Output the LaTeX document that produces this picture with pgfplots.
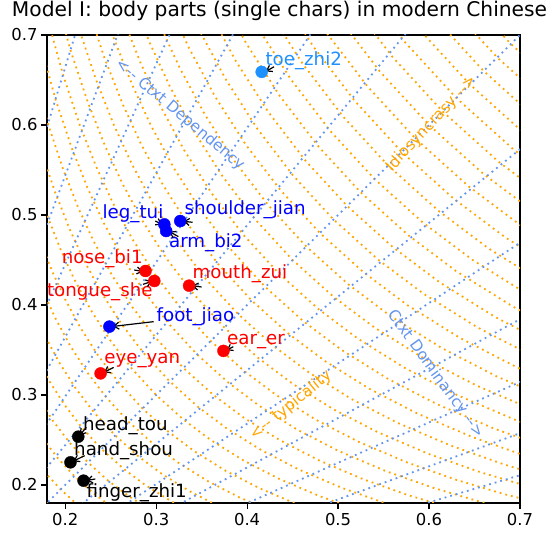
\documentclass[border=0pt]{standalone}
\usepackage{fontspec}
\setmainfont{DejaVu Sans}
\usepackage{pgfplots}
\usepackage{pgfplotstable}
\pgfplotsset{compat=1.18}
\usetikzlibrary{arrows.meta}

\definecolor{cornflower}{HTML}{6495ED}
\definecolor{mplorange}{HTML}{FFA500}
\definecolor{dodger}{HTML}{1E90FF}

% unit hyperbola u*v = 1, scaled by s to get x*y = s^2
\pgfplotstableread{
u v
0.45 2.2222
0.50 2.0000
0.55 1.8182
0.60 1.6667
0.65 1.5385
0.70 1.4286
0.76 1.3158
0.83 1.2048
0.91 1.0989
1.00 1.0000
1.10 0.9091
1.20 0.8333
1.32 0.7576
1.45 0.6897
1.60 0.6250
1.75 0.5714
1.90 0.5263
2.05 0.4878
2.20 0.4545
}\unithyp

\tikzset{
  guide/.style={line width=1.8bp, dash pattern=on 1.8bp off 4bp},
  lbl/.style={font=\fontsize{18.3}{20}\selectfont, anchor=base west, inner sep=0pt},
  note/.style={font=\fontsize{15.5}{17}\selectfont, inner sep=0pt},
  arr/.style={black, line width=1.2bp, -{Straight Barb[length=5bp,width=7bp]}},
}

\begin{document}
\begin{tikzpicture}
\useasboundingbox (-47bp,-30bp) rectangle (508bp,503bp);
\begin{axis}[
    scale only axis,
    width=473bp, height=468bp,
    xmin=0.18, xmax=0.7, ymin=0.18, ymax=0.7,
    xtick={0.2,0.3,0.4,0.5,0.6,0.7},
    ytick={0.2,0.3,0.4,0.5,0.6,0.7},
    tick align=outside, tick pos=left,
    major tick length=6bp,
    tick style={black, line width=1.2bp},
    axis line style={line width=1.2bp},
    ticklabel style={font=\fontsize{16.5}{18}\selectfont},
    xticklabel style={yshift=-1bp},
    /pgf/number format/.cd, fixed, fixed zerofill, precision=1, assume math mode=true,
    /pgfplots/.cd,
    title={Model I: body parts (single chars) in modern Chinese},
    title style={font=\fontsize{20.3}{24}\selectfont, at={(0.5,1)}, anchor=base, yshift=13bp, xshift=-4bp},
]
% orange: contours of x*y
\pgfplotsinvokeforeach{0.180,0.195,0.210,0.225,0.240,0.255,0.270,0.285,0.300,0.315,0.330,0.345,0.360,0.375,0.390,0.405,0.420,0.435,0.450,0.465,0.480,0.495,0.510,0.525,0.540,0.555,0.570,0.585,0.600,0.615,0.630,0.645,0.660,0.675,0.690}{
  \addplot[mplorange, guide] table[x expr=\thisrow{u}*#1, y expr=\thisrow{v}*#1] {\unithyp};
}
% blue: rays y = k x
\pgfplotsinvokeforeach{0.3012,0.3679,0.4493,0.5488,0.6703,0.8187,1,1.2214,1.4918,1.8221,2.2255,2.7183,3.3201}{
  \addplot[cornflower, guide] coordinates {(0,0) (1,#1)};
}

\node[note, text=cornflower, rotate=-40] at (axis cs:0.326,0.6115) {<-{}- Ctxt Dependency};
\node[note, text=mplorange, rotate=47] at (axis cs:0.603,0.6015) {Idiosyncrasy -{}->};
\node[note, text=cornflower, rotate=-54] at (axis cs:0.6075,0.323) {Ctxt Dominancy -{}->};
\node[note, text=mplorange, rotate=39] at (axis cs:0.448,0.2885) {<-{}- typicality};

% points
\addplot[only marks, mark=*, mark size=6bp, color=blue] coordinates {
(0.3265,0.4933) (0.309,0.4896) (0.311,0.4822) (0.2486,0.376)};
\addplot[only marks, mark=*, mark size=6bp, color=red] coordinates {
(0.2883,0.4378) (0.298,0.4267) (0.3362,0.4215) (0.374,0.349) (0.2389,0.324)};
\addplot[only marks, mark=*, mark size=6bp, color=black] coordinates {
(0.2144,0.2537) (0.2058,0.2252) (0.2202,0.2048)};
\addplot[only marks, mark=*, mark size=6bp, color=dodger] coordinates {
(0.416,0.659)};

% labels
\node[lbl, text=dodger] at (axis cs:0.420,0.6665) {toe\_zhi2};
\node[lbl, text=blue] at (axis cs:0.331,0.501) {shoulder\_jian};
\node[lbl, text=blue] at (axis cs:0.2409,0.4963) {leg\_tui};
\node[lbl, text=blue] at (axis cs:0.314,0.464) {arm\_bi2};
\node[lbl, text=red] at (axis cs:0.1961,0.4463) {nose\_bi1};
\node[lbl, text=red] at (axis cs:0.1798,0.4093) {tongue\_she};
\node[lbl, text=red] at (axis cs:0.340,0.4296) {mouth\_zui};
\node[lbl, text=blue] at (axis cs:0.3004,0.3815) {foot\_jiao};
\node[lbl, text=red] at (axis cs:0.3778,0.3556) {ear\_er};
\node[lbl, text=red] at (axis cs:0.2428,0.335) {eye\_yan};
\node[lbl, text=black] at (axis cs:0.2195,0.2604) {head\_tou};
\node[lbl, text=black] at (axis cs:0.2097,0.2326) {hand\_shou};
\node[lbl, text=black] at (axis cs:0.2233,0.1863) {finger\_zhi1};

% arrows
\draw[arr] (axis cs:0.4296,0.6647) -- (axis cs:0.4206,0.6595);
\draw[arr] (axis cs:0.340,0.4919) -- (axis cs:0.3300,0.4930);
\draw[arr] (axis cs:0.299,0.4933) -- (axis cs:0.3065,0.4895);
\draw[arr] (axis cs:0.3245,0.476) -- (axis cs:0.3145,0.4815);
\draw[arr] (axis cs:0.2759,0.4389) -- (axis cs:0.2855,0.4372);
\draw[arr] (axis cs:0.2856,0.423) -- (axis cs:0.2955,0.4262);
\draw[arr] (axis cs:0.350,0.420) -- (axis cs:0.3395,0.4215);
\draw[arr] (axis cs:0.2973,0.3815) -- (axis cs:0.2525,0.3762);
\draw[arr] (axis cs:0.3848,0.3537) -- (axis cs:0.3775,0.3497);
\draw[arr] (axis cs:0.2533,0.3307) -- (axis cs:0.2425,0.3252);
\draw[arr] (axis cs:0.2233,0.264) -- (axis cs:0.2160,0.2555);
\draw[arr] (axis cs:0.2214,0.2326) -- (axis cs:0.2090,0.2265);
\draw[arr] (axis cs:0.2331,0.2067) -- (axis cs:0.2235,0.2050);
\end{axis}
\end{tikzpicture}
\end{document}
